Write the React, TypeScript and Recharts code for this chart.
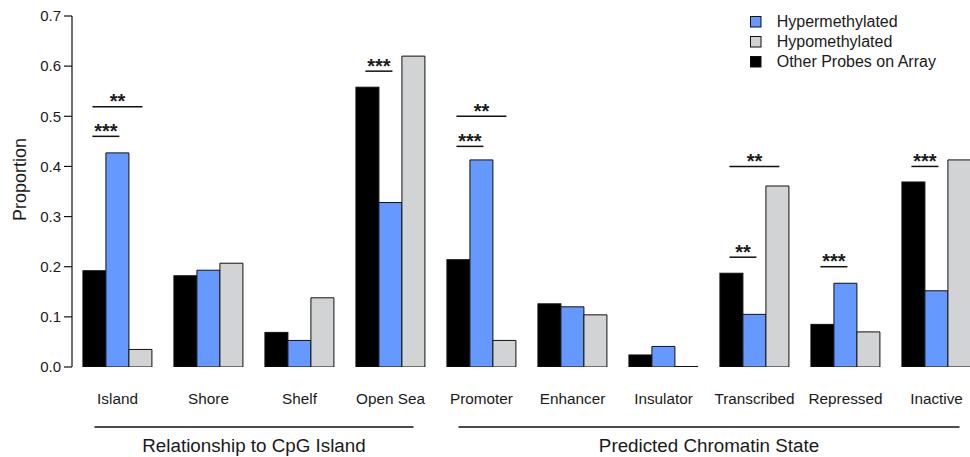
import React from 'react';
import { BarChart, Bar, XAxis, YAxis, Legend } from 'recharts';

const categories = ['Island', 'Shore', 'Shelf', 'Open Sea', 'Promoter', 'Enhancer', 'Insulator', 'Transcribed', 'Repressed', 'Inactive'];
const otherProbes = [0.192, 0.182, 0.069, 0.558, 0.214, 0.126, 0.024, 0.187, 0.085, 0.369];
const hyperValues = [0.427, 0.193, 0.053, 0.328, 0.413, 0.120, 0.041, 0.105, 0.167, 0.152];
const hypoValues = [0.035, 0.207, 0.138, 0.620, 0.053, 0.104, 0.001, 0.361, 0.070, 0.413];
const yTicks = [0, 0.1, 0.2, 0.3, 0.4, 0.5, 0.6, 0.7];

const groupLabels = ['Relationship to CpG Island', 'Predicted Chromatin State'];
const groupFirst = ['Island', 'Promoter'];
const groupLast = ['Open Sea', 'Inactive'];

// significance annotations: category, compared bar (1 = hyper, 2 = hypo), height, stars
const sigCategory = ['Island', 'Island', 'Open Sea', 'Promoter', 'Promoter', 'Transcribed', 'Transcribed', 'Repressed', 'Inactive'];
const sigTarget = [1, 2, 1, 1, 2, 1, 2, 1, 1];
const sigLevel = [0.46, 0.519, 0.59, 0.44, 0.50, 0.219, 0.40, 0.20, 0.40];
const sigStars = ['***', '**', '***', '***', '**', '**', '**', '***', '***'];

const legendOrder = ['Hypermethylated', 'Hypomethylated', 'Other Probes on Array'];

const data = categories.map((c, i) => ({
  category: c,
  other: otherProbes[i],
  hyper: hyperValues[i],
  hypo: hypoValues[i],
}));

const FONT = '"Liberation Sans", Arial, Helvetica, sans-serif';
const TEXT = '#1a1a1a';
const BLUE = '#6699ff';
const GREY = '#d1d3d4';
const CAT_GAP = 0.12;

const OtherShape = (props: any) => {
  const { x, y, width, height, payload } = props;
  const base = y + height;
  const ppu = height / payload.other;
  const items = sigCategory
    .map((c, k) => ({ c, k }))
    .filter((o) => o.c === payload.category);
  return (
    <g>
      <rect x={x} y={y} width={width} height={height} fill="#000" stroke="#111" strokeWidth={1} />
      {items.map(({ k }) => {
        const ly = base - sigLevel[k] * ppu;
        const x1 = x + width / 2 - 2;
        const x2 = x + width / 2 + sigTarget[k] * width + 2;
        return (
          <g key={k}>
            <line x1={x1} x2={x2} y1={ly} y2={ly} stroke="#111" strokeWidth={1.5} />
            <text x={(x1 + x2) / 2} y={ly + 1.5} textAnchor="middle" fontSize={20} fontWeight="bold" fontFamily={FONT} fill={TEXT}>
              {sigStars[k]}
            </text>
          </g>
        );
      })}
    </g>
  );
};

const XTick = (props: any) => {
  const { x, y, payload } = props;
  const value = payload.value;
  const idx = categories.indexOf(value);
  const half = payload.offset || (props.width ? props.width / categories.length / 2 : 45.5);
  const band = half * 2;
  const bw = Math.floor((band * (1 - 2 * CAT_GAP)) / 3);
  const g = groupFirst.indexOf(value);
  let groupEl = null;
  if (g >= 0) {
    const lastIdx = categories.indexOf(groupLast[g]);
    const x1 = x - bw;
    const x2 = x + (lastIdx - idx) * band + bw;
    groupEl = (
      <g>
        <line x1={x1} x2={x2} y1={y + 60} y2={y + 60} stroke="#111" strokeWidth={1.3} />
        <text x={(x1 + x2) / 2} y={y + 84.5} textAnchor="middle" fontSize={18.8} fontFamily={FONT} fill={TEXT}>
          {groupLabels[g]}
        </text>
      </g>
    );
  }
  return (
    <g>
      <text x={x} y={y + 37} textAnchor="middle" fontSize={15.3} fontFamily={FONT} fill={TEXT}>
        {value}
      </text>
      {groupEl}
    </g>
  );
};

const YLabel = (props: any) => {
  const vb = props.viewBox || { x: 12, y: 16, width: 60, height: 351 };
  const cx = vb.x + 13.6;
  const cy = vb.y + vb.height / 2 - 12;
  return (
    <text x={cx} y={cy} transform={`rotate(-90 ${cx} ${cy})`} textAnchor="middle" fontSize={18} fontFamily={FONT} fill={TEXT}>
      Proportion
    </text>
  );
};

const LegendContent = (props: any) => {
  const payload = props.payload || [];
  const colorOf = (name: string) => {
    const p = payload.find((e: any) => e.value === name);
    return p ? p.color : '#000';
  };
  return (
    <svg width={230} height={65} style={{ display: 'block' }}>
      {legendOrder.map((name, i) => (
        <g key={name}>
          <rect x={5.5} y={6.5 + i * 20} width={10.5} height={10.5} fill={colorOf(name)} stroke="#111" strokeWidth={1} />
          <text x={31.7} y={17.3 + i * 20} fontSize={16} fontFamily={FONT} fill={TEXT}>
            {name}
          </text>
        </g>
      ))}
    </svg>
  );
};

export default function App() {
  return (
    <div style={{ position: 'fixed', left: 0, top: 0, width: 970, height: 457, overflow: 'hidden', background: '#fff' }}>
      <BarChart
        width={990}
        height={457}
        data={data}
        margin={{ top: 16, right: 8, bottom: 0, left: 12 }}
        barCategoryGap={`${CAT_GAP * 100}%`}
        barGap={0}
      >
        <XAxis
          dataKey="category"
          axisLine={false}
          tickLine={false}
          tickSize={0}
          tickMargin={0}
          height={90}
          interval={0}
          tick={<XTick />}
        />
        <YAxis
          width={60}
          domain={[0, 0.7]}
          ticks={yTicks}
          allowDataOverflow
          tickFormatter={(v: number) => v.toFixed(1)}
          tickSize={8}
          tickMargin={3}
          axisLine={{ stroke: '#111', strokeWidth: 1.2 }}
          tickLine={{ stroke: '#111', strokeWidth: 1.2 }}
          tick={{ fontSize: 15, fontFamily: FONT, fill: TEXT }}
          label={<YLabel />}
        />
        <Legend
          layout="horizontal"
          verticalAlign="middle"
          align="center"
          content={<LegendContent />}
          wrapperStyle={{ position: 'absolute', top: 10, left: 745, width: 230, height: 65 }}
        />
        <Bar dataKey="other" name="Other Probes on Array" fill="#000" stroke="#111" isAnimationActive={false} shape={<OtherShape />} />
        <Bar dataKey="hyper" name="Hypermethylated" fill={BLUE} stroke="#111" strokeWidth={1} isAnimationActive={false} />
        <Bar dataKey="hypo" name="Hypomethylated" fill={GREY} stroke="#111" strokeWidth={1} isAnimationActive={false} />
      </BarChart>
    </div>
  );
}
